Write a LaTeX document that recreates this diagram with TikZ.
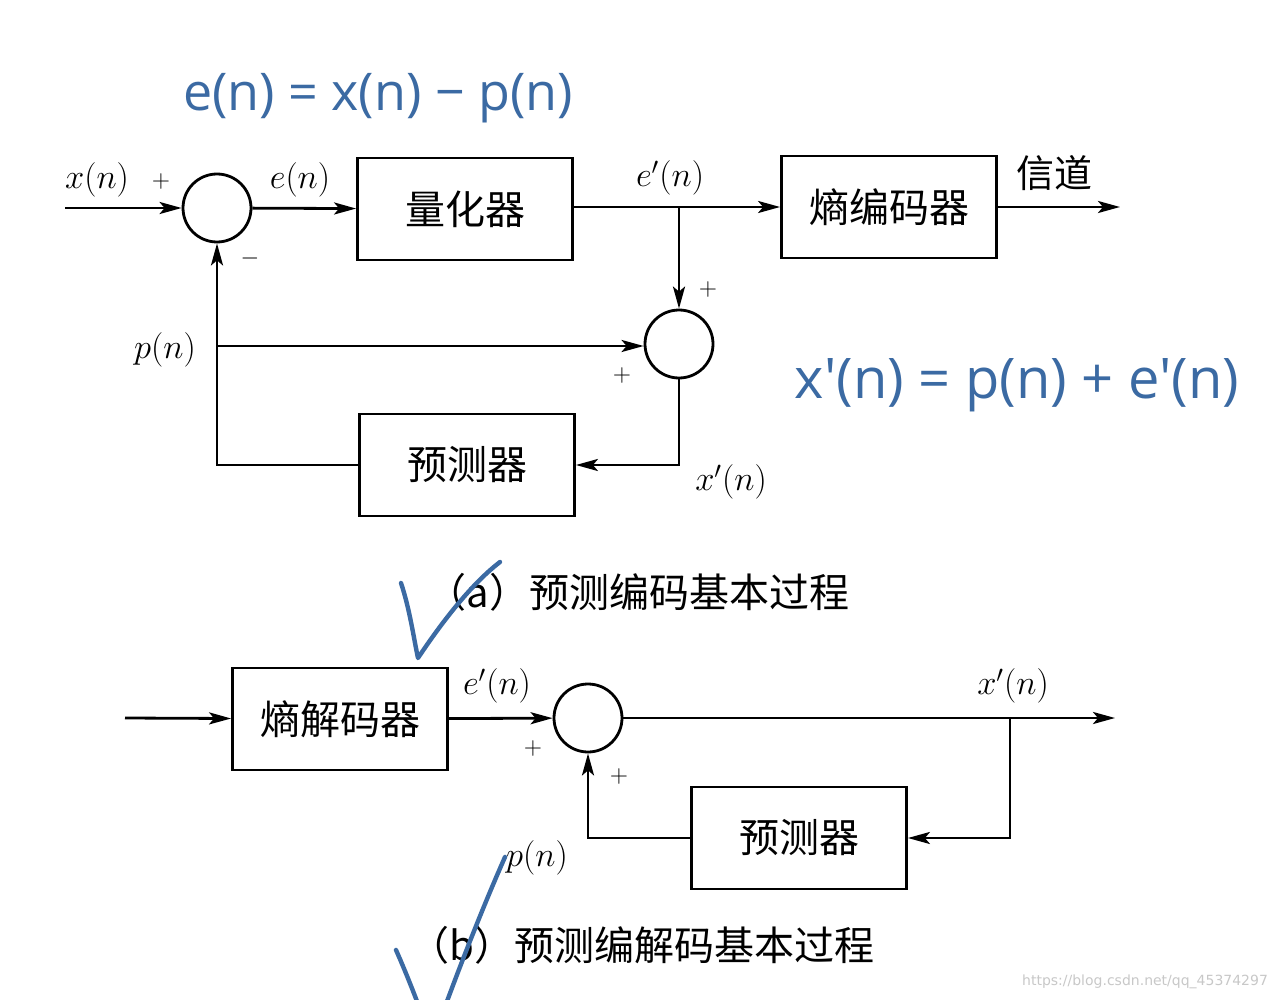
\documentclass[tikz,border=0pt]{standalone}
\usepackage{fontspec}
\newfontfamily\cjk{Noto Sans CJK SC}
\newfontfamily\hand{Open Sans}
\newfontfamily\wm{DejaVu Sans}
\usetikzlibrary{arrows.meta}
\definecolor{ink}{RGB}{59,106,163}
\definecolor{wmgray}{RGB}{200,200,200}
\begin{document}
\begin{tikzpicture}[x=0.5pt,y=-0.5pt,
  line width=1.4pt,
  blk/.style={draw, line width=1.4pt, minimum width=107.5pt, minimum height=51pt, font=\cjk\fontsize{20}{20}\selectfont, inner sep=0pt},
  sum/.style={draw, circle, line width=1.4pt, minimum size=34pt, inner sep=0pt},
  arr/.style={-{Stealth[length=11pt,width=6pt,inset=2.5pt]}},
  lbl/.style={font=\fontsize{16.5}{16.5}\selectfont, inner sep=1pt},
  sgn/.style={font=\fontsize{13}{13}\selectfont, inner sep=1pt},
  captext/.style={font=\cjk\fontsize{20}{20}\selectfont, inner sep=1pt},
  hw/.style={text=ink, font=\hand\fontsize{26}{26}\selectfont, inner sep=1pt},
  chk/.style={draw=ink, line width=2.2pt, line cap=round, line join=round}
]
\fill[white] (0,0) rectangle (1284,1000);
\useasboundingbox (0,0) rectangle (1284,1000);

% ---------- (a) ----------
\node[sum] (s1) at (217,208) {};
\node[blk] (q) at (465,209) {量化器};
\node[blk] (ec) at (889,207) {熵编码器};
\node[sum] (s2) at (679,344) {};
\node[blk] (pr) at (467,465) {预测器};

\coordinate (xin) at (65,208);
\coordinate (chan) at (1120,207);
\coordinate (b1) at (679,207);
\coordinate (b2) at (217,346);

\draw[arr] (xin) -- (s1);
\draw[arr] (s1) -- (q);
\draw (q.east |- b1) -- (b1);
\draw[arr] (b1) -- (ec.west |- b1);
\draw[arr] (ec) -- (chan);
\draw[arr] (b1) -- (s2);
\draw[arr] (s2.south) |- (pr.east);
\draw[arr] (pr.west) -| (s1.south);
\draw[arr] (b2) -- (s2.west |- b2);

\node[lbl] (lx) at (97,180) {$x(n)$};
\node[sgn] (lp1) at (161,182) {$+$};
\node[sgn] (lm1) at (250,258) {$-$};
\node[lbl] (le) at (300,180) {$e(n)$};
\node[lbl] (lep) at (670,178) {$e'(n)$};
\node[font=\cjk\fontsize{19}{19}\selectfont] (lch) at (1054,173) {信道};
\node[sgn] (lp2) at (708,289) {$+$};
\node[sgn] (lp3) at (622,375) {$+$};
\node[lbl] (lpn) at (165,350) {$p(n)$};
\node[lbl] (lxp) at (731,482) {$x'(n)$};
\node[captext] (capa) at (638,592) {（a）预测编码基本过程};

% ---------- (b) ----------
\node[blk] (dec) at (340,719) {熵解码器};
\node[sum] (s3) at (588,718) {};
\node[blk] (pr2) at (799,838) {预测器};

\coordinate (din) at (125,718);
\coordinate (xout) at (1115,718);
\coordinate (b3) at (1010,718);

\draw[arr] (din) -- (dec);
\draw[arr] (dec) -- (s3);
\draw[arr] (s3) -- (xout);
\draw[arr] (b3) |- (pr2.east);
\draw[arr] (pr2.west) -| (s3.south);

\node[lbl] (lep2) at (497,686) {$e'(n)$};
\node[lbl] (lxp2) at (1013,686) {$x'(n)$};
\node[sgn] (lp4) at (533,748) {$+$};
\node[sgn] (lp5) at (619,776) {$+$};
\node[lbl] (lpn2) at (537,858) {$p(n)$};
\node[captext] (capb) at (642,945) {（b）预测编解码基本过程};

% ---------- handwriting ----------
\node[hw] (h1) at (378,98) {e(n) = x(n) − p(n)};
\node[hw, font=\hand\fontsize{28}{28}\selectfont] (h2) at (1017,385) {x'(n) = p(n) + e'(n)};
\draw[chk] (401,583) .. controls (410,610) and (414,640) .. (418,658) .. controls (440,625) and (470,585) .. (500,562);
\draw[chk] (396,950) .. controls (404,968) and (412,988) .. (418,1004);
\draw[chk] (446,1004) .. controls (466,950) and (486,900) .. (505,857);

% ---------- watermark ----------
\node[text=wmgray, font=\wm\fontsize{7}{7}\selectfont, anchor=east] (wm) at (1276,982) {https://blog.csdn.net/qq\_45374297};
\end{tikzpicture}
\end{document}
